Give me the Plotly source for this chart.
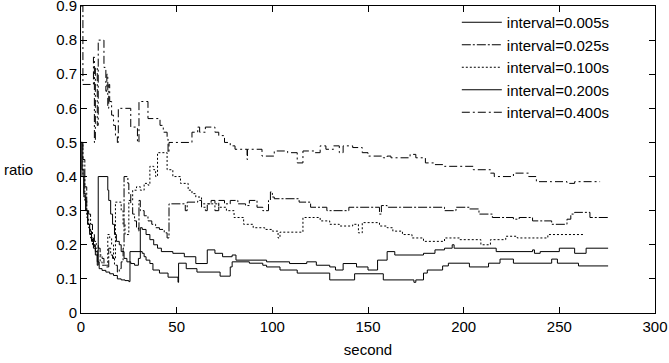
import plotly.graph_objects as go

# ---- data ----
names = ["interval=0.005s", "interval=0.025s", "interval=0.100s",
         "interval=0.200s", "interval=0.400s"]

# interval=0.005s  (lowest curve)
e_x = [0, 0.5, 1.5, 2.5, 3.5, 4.5, 5.5, 6.5, 7.5, 8.5, 9.5, 11, 13, 15, 17, 19, 21, 23, 25,
       25.6, 32, 33, 34, 36, 37.6, 41, 45.5, 50.7, 51, 55, 60.6, 72.7, 78, 79, 88, 95, 97,
       104, 113, 130, 143, 158, 174, 175, 179, 181, 189, 192, 203, 213, 219, 226, 246, 249,
       260, 275.5]
e_y = [0.5, 0.42, 0.35, 0.30, 0.26, 0.23, 0.21, 0.19, 0.17, 0.15, 0.13, 0.125, 0.12, 0.115,
       0.11, 0.10, 0.097, 0.095, 0.092, 0.18, 0.175, 0.165, 0.155, 0.145, 0.126, 0.117,
       0.105, 0.09, 0.146, 0.13, 0.12, 0.108, 0.135, 0.15, 0.146, 0.14, 0.135, 0.126, 0.117,
       0.097, 0.115, 0.097, 0.09, 0.097, 0.117, 0.126, 0.138, 0.146, 0.135, 0.146, 0.158,
       0.146, 0.158, 0.146, 0.138, 0.138]

# interval=0.025s  (second curve from top)
b_x = [0, 1, 2, 3, 4, 5, 6, 7, 8, 9, 10, 11, 12, 13, 14.5, 15.5, 16.5, 17.5, 19, 20, 21, 22,
       22.5, 24.5, 25, 26, 27, 28, 29, 30, 30.3, 31, 33, 35, 37, 39, 41, 43.5, 45, 46, 54.5,
       55.5, 61, 63, 65, 66, 68, 70, 72, 75, 78, 82, 86, 88, 92, 95, 98, 99, 100, 101, 114,
       120, 128.5, 140, 156, 157, 160, 167, 190, 196, 203, 208, 215, 226, 229, 236, 246,
       254, 256, 258, 266, 275.5]
b_y = [0.5, 0.45, 0.37, 0.30, 0.29, 0.26, 0.23, 0.21, 0.20, 0.19, 0.17, 0.16, 0.14, 0.135,
       0.19, 0.17, 0.16, 0.14, 0.12, 0.13, 0.15, 0.19, 0.40, 0.38, 0.35, 0.32, 0.29, 0.27,
       0.25, 0.24, 0.33, 0.30, 0.285, 0.27, 0.26, 0.25, 0.245, 0.235, 0.22, 0.32, 0.30,
       0.325, 0.33, 0.31, 0.30, 0.32, 0.33, 0.30, 0.33, 0.32, 0.33, 0.32, 0.315, 0.33, 0.31,
       0.30, 0.33, 0.355, 0.34, 0.335, 0.325, 0.31, 0.30, 0.31, 0.29, 0.315, 0.31, 0.31,
       0.30, 0.31, 0.305, 0.29, 0.28, 0.275, 0.28, 0.27, 0.26, 0.275, 0.29, 0.295, 0.28,
       0.28]

# interval=0.100s  (dotted curve)
c_x = [0, 1, 2, 3, 4, 5, 6, 7, 8.5, 10, 11, 14, 15, 16, 17, 18, 21, 22, 23, 25, 27, 29, 31,
       33, 35, 36, 38, 39, 40, 42.3, 45, 48, 52, 56, 58, 60, 63, 70, 72, 76, 80, 85, 90, 96,
       100, 103, 104, 115, 116, 122, 125, 130, 135, 142, 145, 147, 153, 156, 160, 163, 168,
       173, 179, 190, 198, 209, 214, 222, 228, 238, 244, 262.4]
c_y = [0.5, 0.40, 0.33, 0.28, 0.25, 0.22, 0.20, 0.19, 0.17, 0.15, 0.14, 0.23, 0.22, 0.20,
       0.16, 0.325, 0.30, 0.26, 0.23, 0.33, 0.36, 0.37, 0.36, 0.38, 0.375, 0.43, 0.42, 0.40,
       0.47, 0.47, 0.42, 0.40, 0.38, 0.36, 0.35, 0.34, 0.32, 0.32, 0.31, 0.30, 0.28, 0.26,
       0.25, 0.245, 0.24, 0.22, 0.237, 0.237, 0.28, 0.28, 0.27, 0.26, 0.255, 0.26, 0.235,
       0.265, 0.265, 0.255, 0.25, 0.24, 0.23, 0.22, 0.21, 0.22, 0.215, 0.20, 0.215, 0.225,
       0.22, 0.22, 0.23, 0.23]

# interval=0.200s  (fourth curve from top)
d_x = [0, 0.5, 1.5, 2.5, 3.5, 4.5, 5.5, 6.5, 7.5, 8.5, 9, 14, 14.5, 15.5, 16.5, 17.5, 18.5,
       20, 21, 22.5, 24, 26, 28, 30, 31, 32, 34, 36, 38, 40, 42, 48, 54, 60, 66, 70, 74, 79,
       81, 97, 109, 118, 123, 130, 133, 137, 144, 150, 155, 160, 164, 179, 185, 190, 194,
       195, 217, 236, 237, 240, 250, 258, 264, 275.5]
d_y = [0.5, 0.40, 0.34, 0.30, 0.26, 0.24, 0.22, 0.20, 0.18, 0.14, 0.40, 0.36, 0.33, 0.29,
       0.26, 0.23, 0.21, 0.20, 0.18, 0.16, 0.15, 0.145, 0.14, 0.16, 0.25, 0.245, 0.23,
       0.215, 0.20, 0.19, 0.18, 0.175, 0.165, 0.145, 0.185, 0.175, 0.165, 0.17, 0.155,
       0.15, 0.145, 0.15, 0.14, 0.135, 0.126, 0.145, 0.135, 0.126, 0.155, 0.18, 0.17, 0.175,
       0.185, 0.19, 0.20, 0.19, 0.18, 0.185, 0.175, 0.18, 0.19, 0.175, 0.19, 0.19]

# interval=0.400s  (top curve)
a_x = [0, 1, 6.5, 7, 7.5, 8.5, 9, 11.5, 12, 13, 13.5, 14, 14.5, 15, 16, 17, 18, 19, 19.5,
       26, 29.5, 30.3, 35, 41.3, 43, 45, 45.5, 46, 58, 61, 62, 65, 70, 72, 75, 78, 80.5,
       86.8, 87, 94.6, 101, 108, 113, 116, 122, 125, 128, 132, 135, 137, 142, 147, 150, 158,
       160, 162, 172, 175, 180, 185, 190, 205, 214, 216, 226, 234, 238, 246, 254, 258,
       271.3]
a_y = [0.9, 0.67, 0.75, 0.5, 0.72, 0.55, 0.80, 0.80, 0.72, 0.65, 0.70, 0.60, 0.67, 0.62,
       0.58, 0.55, 0.52, 0.50, 0.60, 0.545, 0.50, 0.62, 0.57, 0.55, 0.53, 0.51, 0.47, 0.50,
       0.53, 0.545, 0.53, 0.545, 0.53, 0.52, 0.50, 0.49, 0.48, 0.45, 0.48, 0.46, 0.475,
       0.47, 0.44, 0.475, 0.47, 0.49, 0.48, 0.49, 0.47, 0.49, 0.485, 0.47, 0.46, 0.455,
       0.46, 0.455, 0.465, 0.455, 0.44, 0.435, 0.43, 0.42, 0.41, 0.40, 0.41, 0.40, 0.385,
       0.385, 0.38, 0.385, 0.385]

x_ticks = [0, 50, 100, 150, 200, 250, 300]
y_ticks = [0, 0.1, 0.2, 0.3, 0.4, 0.5, 0.6, 0.7, 0.8, 0.9]
y_ticktext = ["0", "0.1", "0.2", "0.3", "0.4", "0.5", "0.6", "0.7", "0.8", "0.9"]

series = [(e_x, e_y, "solid"),
          (b_x, b_y, "9px,2px,2px,2px"),
          (c_x, c_y, "2px,2px"),
          (d_x, d_y, "solid"),
          (a_x, a_y, "8px,3px,2px,3px")]

FONT = "Liberation Sans, Arial, Helvetica, sans-serif"

fig = go.Figure()
for name, (xs, ys, dash) in zip(names, series):
    fig.add_trace(go.Scatter(x=xs, y=ys, mode="lines", name=name,
                             line=dict(color="black", width=1, dash=dash, shape="hv")))

axis_common = dict(showline=True, linecolor="black", linewidth=1, mirror="ticks",
                   ticks="inside", ticklen=6, tickcolor="black", showgrid=False,
                   zeroline=False, automargin=False, ticklabeloverflow="allow",
                   tickfont=dict(family=FONT, size=15, color="black"))

fig.update_layout(
    width=669, height=363,
    margin=dict(l=81, r=14, t=6, b=50, autoexpand=False),
    paper_bgcolor="white", plot_bgcolor="white",
    font=dict(family=FONT, size=15, color="black"),
    xaxis=dict(range=[0, 300], tickvals=x_ticks, ticktext=[str(v) for v in x_ticks],
               title=dict(text="second", standoff=10, font=dict(family=FONT, size=15)),
               **axis_common),
    yaxis=dict(range=[0, 0.9], tickvals=y_ticks, ticktext=y_ticktext, **axis_common),
    legend=dict(x=0.93, y=1.0, xanchor="right", yanchor="top",
                bgcolor="rgba(0,0,0,0)", font=dict(family=FONT, size=15),
                tracegroupgap=0, itemwidth=40),
    showlegend=True,
    annotations=[dict(text="ratio", xref="paper", yref="paper", x=0, y=0.466,
                      xanchor="right", yanchor="middle", xshift=-46, showarrow=False,
                      font=dict(family=FONT, size=15))],
)

fig.write_html("out.html", config={"displayModeBar": False},
               post_script="document.body.style.margin='0';")
